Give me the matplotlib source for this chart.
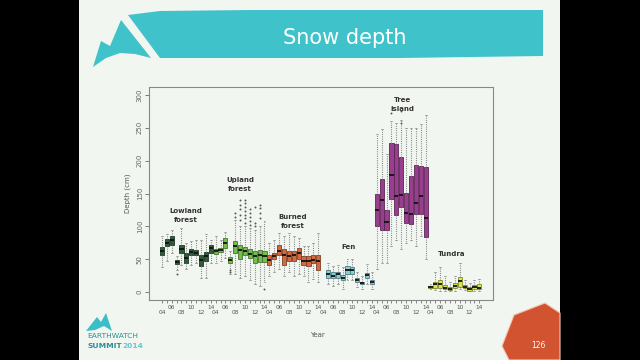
import matplotlib
matplotlib.use("Agg")
import matplotlib.pyplot as plt
import numpy as np
from matplotlib.patches import Polygon, Rectangle
from matplotlib.transforms import blended_transform_factory
from matplotlib.colors import to_rgb

# ---------------- data ----------------
groups = ["Lowland\nforest", "Upland\nforest", "Burned\nforest", "Fen", "Tree\nisland", "Tundra"]
colors = ["#2f5d39", "#72bf4c", "#d4683f", "#86cfd7", "#993d8e", "#d9e64c"]
years = ["04", "05", "06", "07", "08", "09", "10", "11", "12", "13", "14"]

nan = np.nan
med = [
    [62, 75, 80, 46, 65, 52, 61, 60, 49, 55, 67],
    [62, 64, 74, 49, 70, 64, 62, 58, 55, 57, 55],
    [49, 55, 62, 57, 55, 56, 60, 47, 47, 49, 47],
    [nan, 27, 24, 27, 22, 34, 34, 18, 14, 26, 15],
    [125, 140, 106, 178, 146, 147, 121, 119, 135, 146, 113],
    [8, 12, 13, 7, 5, 9, 17, 8, 4, 8, 7],
]
q1 = [
    [57, 70, 72, 43, 59, 45, 57, 56, 40, 47, 60],
    [58, 61, 67, 45, 60, 50, 56, 52, 45, 46, 46],
    [42, 50, 57, 42, 47, 47, 50, 42, 39, 44, 33],
    [nan, 22, 21, 22, 18, 28, 28, 16, 12, 22, 12],
    [100, 94, 94, 141, 117, 130, 105, 104, 119, 119, 84],
    [6, 6, 6, 4, 3, 6, 8, 6, 2, 5, 4],
]
q3 = [
    [68, 81, 86, 49, 71, 60, 65, 64, 57, 61, 72],
    [66, 67, 82, 53, 78, 72, 68, 66, 62, 64, 63],
    [57, 60, 72, 65, 62, 62, 67, 55, 55, 57, 56],
    [nan, 34, 30, 31, 26, 39, 38, 21, 16, 29, 18],
    [150, 172, 125, 227, 225, 206, 151, 176, 193, 192, 191],
    [10, 16, 18, 11, 8, 14, 23, 11, 8, 11, 13],
]
wlo = [
    [38, 48, 60, 33, 42, 35, 42, 45, 22, 22, 45],
    [45, 48, 52, 28, 28, 22, 25, 18, 12, 10, 15],
    [25, 30, 35, 25, 30, 25, 28, 25, 15, 20, 15],
    [nan, 12, 10, 12, 5, 18, 18, 8, 5, 12, 5],
    [35, 45, 45, 70, 80, 65, 75, 80, 70, 85, 50],
    [4, 3, 2, 2, 1, 2, 4, 3, 1, 2, 2],
]
whi = [
    [85, 88, 95, 55, 97, 75, 78, 80, 80, 88, 80],
    [85, 80, 92, 62, 110, 100, 100, 98, 95, 100, 108],
    [75, 80, 90, 85, 90, 85, 82, 70, 70, 75, 90],
    [nan, 45, 40, 42, 38, 50, 50, 30, 25, 43, 30],
    [240, 248, 210, 260, 258, 262, 250, 250, 250, 255, 270],
    [12, 30, 38, 25, 15, 25, 45, 18, 14, 18, 20],
]
fliers = [
    [[], [], [], [27], [], [], [], [], [], [], []],
    [[], [], [], [30, 33], [115, 120], [110, 118, 126, 133, 140],
     [105, 112, 118, 124, 130, 136, 140], [102, 108, 114, 120, 126],
     [100, 105, 130], [112, 120, 128, 133], [5]],
    [[], [], [], [], [], [], [], [], [], [], []],
    [[], [], [], [], [], [], [], [], [], [], []],
    [[], [], [], [272], [], [275, 258], [], [], [], [], []],
    [[], [], [], [], [], [], [], [], [], [], []],
]
label_xy = [(5.9, 116), (17.0, 163), (27.8, 107), (39.3, 68), (50.2, 285), (60.4, 58)]

# ---------------- figure ----------------
W, H = 640, 360
fig = plt.figure(figsize=(6.4, 3.6), dpi=100)
fig.patch.set_facecolor("black")

bg = fig.add_axes([0, 0, 1, 1], zorder=0)
bg.set_xlim(0, W)
bg.set_ylim(H, 0)
bg.axis("off")
slide_col = "#f2f6f1"
bg.add_patch(Rectangle((79, 0), 481, 360, facecolor=slide_col, edgecolor="none"))

teal = "#40c2ca"
# banner body
body = [(128, 15), (160, 11), (250, 10), (543, 10), (543, 56), (400, 58), (250, 58), (160, 58)]
bg.add_patch(Polygon(body, closed=True, facecolor=teal, edgecolor="none"))
# flag tail
tail = [(93, 67), (101, 41), (110, 46), (121, 20), (151, 58), (135, 54), (120, 53), (106, 58)]
bg.add_patch(Polygon(tail, closed=True, facecolor=teal, edgecolor="none"))
bg.text(345, 38, "Snow depth", color="white", fontsize=15, ha="center", va="center",
        family="DejaVu Sans")

# logo
mount = [(86, 331), (97, 317), (101, 322), (106, 313), (112, 331), (104, 326), (95, 330)]
bg.add_patch(Polygon(mount, closed=True, facecolor="#3bbfc6", edgecolor="none"))
bg.text(87, 336, "EARTHWATCH", color="#2a8f9a", fontsize=5.4, ha="left", va="center",
        family="DejaVu Sans Condensed")
bg.text(87, 346, "SUMMIT", color="#2a8f9a", fontsize=5.4, ha="left", va="center",
        family="DejaVu Sans Condensed", fontweight="bold")
bg.text(122, 346, "2014", color="#62c8cf", fontsize=5.4, ha="left", va="center",
        family="DejaVu Sans Condensed", fontweight="bold")

# page number badge
badge = [(514, 315), (545, 303), (560, 313), (560, 360), (509, 360), (502, 346)]
bg.add_patch(Polygon(badge, closed=True, facecolor="#d2532f", edgecolor="#f4c6b6", lw=0.8))
bg.text(538, 345, "126", color="white", fontsize=5.5, ha="center", va="center")

# ---------------- chart ----------------
ax = fig.add_axes([149 / W, 1 - 300 / H, (493 - 149) / W, (300 - 87) / H], zorder=2)
ax.set_facecolor(slide_col)

ny = len(years)
stats, pos, fcs = [], [], []
for g in range(len(groups)):
    for i in range(ny):
        if np.isnan(med[g][i]):
            continue
        stats.append(dict(med=med[g][i], q1=q1[g][i], q3=q3[g][i],
                          whislo=wlo[g][i], whishi=whi[g][i], fliers=fliers[g][i]))
        pos.append(g * ny + i + 1)
        fcs.append(colors[g])

bp = ax.bxp(stats, positions=pos, widths=0.85, patch_artist=True, manage_ticks=False,
            boxprops=dict(linewidth=0.6),
            medianprops=dict(color="#111111", linewidth=1.3),
            whiskerprops=dict(color="#777777", linewidth=0.8, linestyle=(0, (0.8, 1.2))),
            capprops=dict(color="#888888", linewidth=0.5),
            flierprops=dict(marker="o", markersize=1.4, markerfacecolor="#555555",
                            markeredgecolor="none"))
for patch, c in zip(bp["boxes"], fcs):
    patch.set_facecolor(c)
    patch.set_edgecolor(tuple(0.6 * v for v in to_rgb(c)))
for cap in bp["caps"]:
    x = cap.get_xdata()
    m = (x[0] + x[1]) / 2
    cap.set_xdata([m - 0.2, m + 0.2])

ax.set_xlim(-1.65, 68.8)
ax.set_ylim(-12, 312)

for s in ax.spines.values():
    s.set_color("#888888")
    s.set_linewidth(0.8)

ax.set_yticks(np.arange(0, 301, 50))
ax.tick_params(axis="y", labelsize=5, colors="#666666", length=3, width=0.6,
               labelrotation=90, pad=1.5)
for lab in ax.get_yticklabels():
    lab.set_va("center")
ax.set_ylabel("Depth (cm)", fontsize=5, color="#555555", labelpad=4)

allpos = np.arange(1, len(groups) * ny + 1)
ax.set_xticks(allpos)
ax.set_xticklabels([])
ax.tick_params(axis="x", length=2.5, width=0.6, colors="#777777")
tr = blended_transform_factory(ax.transData, ax.transAxes)
for g in range(len(groups)):
    for i, yr in enumerate(years):
        if i % 2:
            continue
        yy = -0.058 if (i // 2) % 2 == 0 else -0.033
        ax.text(g * ny + i + 1, yy, yr, transform=tr, fontsize=4.2, color="#555555",
                ha="center", va="center")
ax.text(0.49, -0.165, "Year", transform=ax.transAxes, fontsize=5, color="#555555",
        ha="center", va="center")

for (lx, ly), name in zip(label_xy, groups):
    ax.text(lx, ly, name, fontsize=5, fontweight="bold", color="#333333",
            ha="center", va="center", linespacing=1.6)

fig.savefig("out.png", dpi=100, facecolor=fig.get_facecolor())
